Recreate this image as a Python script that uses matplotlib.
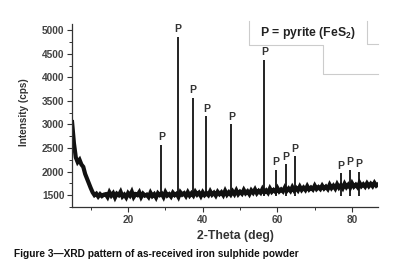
import numpy as np
import matplotlib
matplotlib.use("Agg")
import matplotlib.pyplot as plt
from matplotlib.lines import Line2D

plt.rcParams['font.family'] = ['Liberation Sans', 'DejaVu Sans']
plt.rcParams['mathtext.fontset'] = 'custom'
plt.rcParams['mathtext.rm'] = 'Liberation Sans'
plt.rcParams['mathtext.bf'] = 'Liberation Sans:bold'

# Background trace, 2-theta from 5 to 87 deg in 0.5 deg steps
counts = [
    3050, 2600, 2300, 2200, 2250, 2150, 2100, 1950, 1850, 1750, 1650, 1560, 1500, 1530, 1470, 1520, 1480, 1510,
    1520, 1460, 1560, 1490, 1540, 1450, 1530, 1500, 1570, 1470, 1510, 1450, 1540, 1490, 1570, 1460, 1520, 1500, 1560, 1460, 1530, 1490,
    1510, 1460, 1550, 1480, 1520, 1450, 1540, 1500, 1530, 1460, 1560, 1490, 1520, 1470, 1550, 1500, 1530, 1460, 1560, 1510, 1540, 1480,
    1560, 1490, 1540, 1490, 1570, 1510, 1550, 1480, 1560, 1500, 1540, 1500, 1580, 1510, 1550, 1490, 1570, 1520, 1560, 1500, 1590, 1510, 1560, 1510,
    1580, 1520, 1600, 1520, 1570, 1530, 1610, 1540, 1580, 1520, 1600, 1550, 1620, 1540, 1590, 1550, 1630, 1560, 1600, 1550, 1640, 1570, 1610, 1570,
    1650, 1580, 1620, 1580, 1660, 1590, 1640, 1590, 1670, 1600, 1650, 1600, 1680, 1610, 1660, 1610, 1690, 1620, 1660, 1620, 1700, 1630, 1670, 1630,
    1700, 1640, 1680, 1630, 1720, 1650, 1700, 1640, 1730, 1660, 1710, 1650, 1740, 1670, 1720, 1660, 1750, 1680, 1720, 1670, 1760, 1690, 1730, 1680,
    1750, 1690, 1740, 1690, 1760, 1700, 1730,
]
theta_start, theta_end = 5, 87

# Pyrite peaks
peak_pos = [28.9, 33.3, 37.3, 41.0, 47.7, 56.5, 59.5, 62.2, 64.6, 77.0, 79.4, 81.9]
peak_top = [2560, 4860, 3560, 3170, 3000, 4370, 2040, 2150, 2320, 1960, 2040, 1990]
peak_label = "P"

fig = plt.figure(figsize=(3.96, 2.68), dpi=100)
ax = fig.add_axes([0.182, 0.228, 0.773, 0.682])

theta = np.linspace(theta_start, theta_end, len(counts))
ax.plot(theta, counts, color='#111111', lw=3.0, solid_joinstyle='miter')
ax.vlines(peak_pos, 1480, peak_top, color='#111111', lw=1.3)
for p, t in zip(peak_pos, peak_top):
    ax.text(p, t + 60, peak_label, ha='center', va='bottom', fontsize=7.5,
            fontweight='bold', color='#333333')

ax.set_xlim(theta_start, theta_end)
ax.set_ylim(1250, 5130)
ax.set_xticks([20, 40, 60, 80])
ax.set_xticks([10, 30, 50, 70], minor=True)
ax.set_yticks([1500, 2000, 2500, 3000, 3500, 4000, 4500, 5000])
ax.set_yticks(np.arange(1250, 5130, 250), minor=True)
for s in ['top', 'right']:
    ax.spines[s].set_visible(False)
for s in ['left', 'bottom']:
    ax.spines[s].set_color('#333333')
    ax.spines[s].set_linewidth(0.9)
ax.tick_params(axis='both', which='major', length=3.5, width=0.8, color='#333333',
               labelsize=7.3, labelcolor='#444444', pad=2)
ax.tick_params(axis='both', which='minor', length=2, width=0.7, color='#333333')
for lab in ax.get_xticklabels() + ax.get_yticklabels():
    lab.set_fontweight('bold')

ax.set_xlabel("2-Theta (deg)", fontsize=8.8, fontweight='bold', color='#333333')
ax.xaxis.set_label_coords((235 - 72) / 306, -(230 - 207) / 183)
ax.set_ylabel("Intensity (cps)", fontsize=7.2, fontweight='bold', color='#333333')
ax.yaxis.set_label_coords(-(72 - 29) / 306, (207 - 112) / 183)

# Legend box fragments
lc = '#cccccc'
def fl(xs, ys):
    fig.add_artist(Line2D([x / 396 for x in xs], [1 - y / 268 for y in ys],
                          color=lc, lw=0.8, transform=fig.transFigure))
fl([249, 249, 323, 323, 378], [21, 45, 45, 74, 74])
fl([367, 367, 378], [21, 44, 44])
fig.text(308 / 396, 1 - 33 / 268, r"P = pyrite (FeS$_\mathbf{2}$)", ha='center', va='center',
         fontsize=8.8, fontweight='bold', color='#222222')

fig.text(14 / 396, 1 - 254 / 268,
         "Figure 3\u2014XRD pattern of as-received iron sulphide powder",
         ha='left', va='center', fontsize=7.3, fontweight='bold', color='#111111')

fig.savefig("out.png", dpi=100)
